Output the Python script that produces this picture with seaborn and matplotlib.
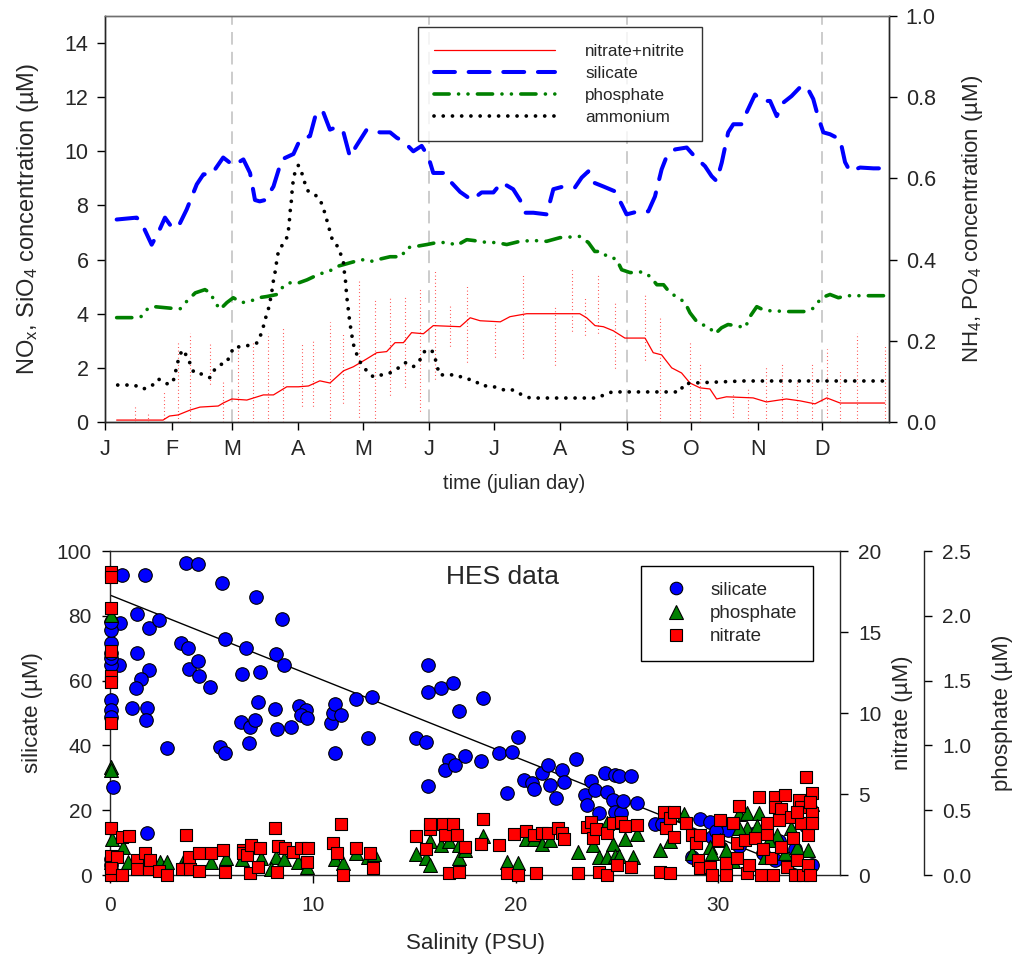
import numpy as np
import pandas as pd
import matplotlib
matplotlib.use("Agg")
import matplotlib.pyplot as plt
from matplotlib.lines import Line2D
import seaborn as sns

# ---------------- top panel data (julian day, concentration) ----------------
month_days = [0, 31, 59, 90, 120, 151, 181, 212, 243, 273, 304, 334]
month_labels = ["J", "F", "M", "A", "M", "J", "J", "A", "S", "O", "N", "D"]
season_days = [59, 151, 243, 334]

si_day = [5.4, 14.7, 17, 21.7, 24.8, 27.9, 31, 34, 38, 42.7, 45.8, 49.6, 55, 59.7, 64.4, 67.5,
          69.8, 72, 74.5, 78.4, 82.3, 87.7, 90.8, 95.4, 98.5, 101.6, 104.7, 107.9, 111, 114,
          117, 121.8, 128, 132.7, 135.8, 138.9, 143.5, 147.4, 150.5, 152.8, 157.5, 160.6,
          165.3, 170.7, 175.3, 180.8, 184.6, 190, 193.2, 195.5, 199.4, 205.6, 208.7, 213.4,
          218.8, 221.9, 225, 227.3, 232, 237.4, 240.5, 242.8, 248.2, 252.9, 256, 259.1, 261.4,
          265.4, 270.8, 274.6, 279.3, 282.4, 284.7, 287.1, 290.1, 292.5, 296.4, 298.7, 302.6,
          305.6, 309.6, 312.7, 315.8, 319.6, 323.6, 326.6, 329.7, 332, 334.4, 337.5, 342.2,
          344.5, 346.8, 351.5, 357.7, 363.1]
si_val = [7.48, 7.55, 7.35, 6.55, 7.0, 7.55, 7.2, 7.2, 7.85, 8.78, 9.15, 9.15, 9.77, 9.48, 9.7, 9.2,
          8.2, 8.15, 8.2, 8.7, 9.7, 9.9, 10.44, 10.56, 11.48, 11.44, 10.8, 10.9, 10.7, 9.8,
          10.2, 10.8, 10.7, 10.7, 10.5, 10.37, 10.0, 10.2, 9.8, 9.2, 9.2, 8.9,
          8.5, 8.2, 8.48, 8.48, 8.85, 8.6, 8.2, 7.73, 7.73, 7.67, 8.6, 8.7,
          8.67, 9.03, 9.26, 8.85, 8.7, 8.52, 8.04, 7.67, 7.78, 7.78, 8.33, 9.33, 9.8,
          10.07, 10.14, 9.8, 9.45, 9.08, 8.9, 9.58, 10.7, 11.0, 11.0, 11.44, 12.1,
          11.86, 11.86, 11.3, 11.8, 12.04, 12.37, 12.4, 11.93, 11.26, 10.7, 10.63, 10.44,
          9.6, 9.26, 9.4, 9.37, 9.37]

nx_day = [5.4, 27, 30, 34, 39.6, 44.2, 52.7, 55, 59, 66, 73.7, 78.4, 84.6, 90, 94.7, 100, 104.7,
          111, 115.6, 121.8, 126.5, 131.1, 135, 138.9, 142.7, 148.2, 152.8, 165.3, 170, 174.6,
          184, 188.5, 196.3, 221, 224.2, 228.1, 232, 236.6, 242, 251.4, 255.2, 259.1, 263.8,
          268.4, 272.3, 277, 281.6, 284.7, 289.3, 301.7, 307.9, 317.2, 323.6, 330.5, 336,
          342.2, 363]
nx_val = [0.07, 0.07, 0.22, 0.26, 0.44, 0.55, 0.59, 0.7, 0.85, 0.81, 1.0, 1.0, 1.3, 1.3, 1.33, 1.52, 1.44,
          1.89, 2.04, 2.33, 2.56, 2.6, 2.93, 2.93, 3.3, 3.26, 3.56, 3.52, 3.85, 3.74,
          3.7, 3.89, 4.0, 4.0, 3.85, 3.56, 3.52, 3.37, 3.1, 3.1, 2.56, 2.48, 2.0,
          1.81, 1.44, 1.26, 1.22, 0.85, 0.93, 0.89, 0.74, 0.85, 0.78, 0.67, 0.89,
          0.70, 0.70]

# raw NOx samples shown as dotted vertical columns
col_day = [14, 20, 27.5, 34, 39.6, 49, 54.7, 62, 69, 76, 83, 91.5, 97, 104.8, 111, 118, 125.7,
           132.7, 139.7, 146.6, 153.6, 160.6, 168.4, 181.6, 194.7, 209.5, 217.3, 223.5, 229.5,
           237.4, 251.4, 258.4, 272.3, 277, 292.2, 299.5, 307.9, 315, 322, 329, 336, 342.2,
           349.9, 363]
col_lo = [0, 0, 0, 0, 0, 1.4, 0, 0, 0, 0, 0, 0.6, 0.6, 0, 0.7, 0.2, 0,
          1.0, 1.3, 0.4, 1.6, 2.8, 2.2, 2.4, 2.35, 2.1, 3.35, 3.2, 3.3,
          2.0, 2.3, 0, 0, 0, 0.2, 0, 0, 0, 0, 0, 0.2, 0,
          0, 0]
col_hi = [0.6, 0.3, 1.1, 2.9, 3.3, 2.9, 1.5, 2.8, 2.9, 3.3, 3.5, 2.9, 3.0, 3.7, 3.3, 5.2, 4.5,
          4.6, 4.7, 5.0, 5.6, 4.3, 5.1, 3.8, 5.5, 4.3, 5.6, 4.6, 5.5,
          4.4, 4.7, 3.9, 3.0, 2.2, 1.0, 1.2, 2.0, 2.2, 1.5, 2.2, 2.7, 1.9,
          3.3, 2.8]

po_day = [5.4, 14, 17, 20, 23, 31, 35, 38, 42, 46.5, 49, 51, 53.5, 56.7, 59.7, 63.6, 67.5, 71.4,
          75.3, 80, 82.3, 85.4, 89.3, 94, 100, 104, 108, 114, 119.5, 123.4, 127, 132.7, 138,
          140.4, 144.3, 149.8, 154.5, 159.8, 163.7, 168.4, 171.5, 178, 182.3, 187, 193.2,
          199.4, 205.6, 211.8, 221, 225, 228, 231, 234.3, 238, 240.5, 244.4, 246.7, 250.6,
          253.8, 256.9, 260, 263, 266.9, 270, 272.3, 275.5, 277.8, 280.9, 284, 287, 290, 294,
          298, 300.3, 303.4, 307.3, 312, 315.8, 319.6, 325.9, 329.7, 333.6, 337.5, 341.4,
          345.3, 350, 363]
po_val = [0.257, 0.257, 0.26, 0.28, 0.284, 0.28, 0.279, 0.297, 0.318, 0.326, 0.318, 0.297, 0.277,
          0.294, 0.306, 0.294, 0.297, 0.306, 0.309, 0.314, 0.33, 0.343, 0.341, 0.35, 0.365, 0.37,
          0.383, 0.392, 0.4, 0.395, 0.40, 0.407, 0.407, 0.429, 0.432, 0.437, 0.442, 0.442,
          0.435, 0.449, 0.447, 0.442, 0.442, 0.437, 0.445, 0.447, 0.445, 0.454, 0.457, 0.442,
          0.42, 0.42, 0.405, 0.402, 0.375, 0.368, 0.368, 0.37, 0.358, 0.338, 0.338, 0.318,
          0.306, 0.294, 0.269, 0.247, 0.24, 0.235, 0.217, 0.232, 0.24, 0.237, 0.232, 0.26,
          0.284, 0.274, 0.274, 0.272, 0.272, 0.272, 0.28, 0.306, 0.314, 0.306, 0.311, 0.311,
          0.311]

nh_day = [5.9, 9.7, 13.6, 17.5, 21.4, 24.8, 28.4, 31.5, 32.6, 33.4, 34.5, 36, 38.4, 39.8, 41.4,
          45, 48.9, 50.9, 53.5, 56.6, 58.2, 60, 63.9, 67.8, 70.9, 72.5, 73.7, 74.8, 76, 76.8,
          77.6, 78, 78.8, 79.5, 80, 80.7, 83, 84.6, 85.4, 85.8, 86.1, 86.6, 86.9, 87.2, 87.7,
          88.5, 90, 91.5, 92.8, 94.2, 97, 99.8, 101.4, 102.6, 103.7, 104.7, 105.8, 108.3,
          109.8, 111, 111.4, 111.9, 112.2, 112.5, 113, 113.4, 113.9, 114.5, 115.1, 115.9,
          117.1, 118.7, 121.5, 124.9, 128.8, 132.7, 136, 139.8, 143.5, 146.6, 148.6, 152,
          153.6, 154.7, 155.6, 159.8, 163.7, 167.6, 171.5, 175.3, 179.2, 183.1, 186.7, 190,
          194, 197.9, 229, 232.4, 236, 267.7, 269.5, 273.9, 297.2, 363]
nh_val = [0.091, 0.091, 0.091, 0.081, 0.087, 0.106, 0.094, 0.096, 0.118, 0.138, 0.16, 0.178, 0.16,
          0.141, 0.121, 0.118, 0.109, 0.128, 0.141, 0.146, 0.165, 0.185, 0.185, 0.19, 0.195,
          0.215, 0.235, 0.257, 0.277, 0.297, 0.318, 0.338, 0.358, 0.38, 0.40, 0.42, 0.44,
          0.454, 0.474, 0.494, 0.516, 0.536, 0.556, 0.578, 0.597, 0.617, 0.632, 0.615, 0.592,
          0.570, 0.563, 0.55, 0.531, 0.509, 0.489, 0.469, 0.449, 0.432, 0.412, 0.392, 0.370,
          0.35, 0.33, 0.309, 0.289, 0.269, 0.247, 0.227, 0.207, 0.185, 0.168, 0.148, 0.128,
          0.111, 0.116, 0.121, 0.131, 0.146, 0.136, 0.153, 0.173, 0.178, 0.158, 0.136, 0.116,
          0.116, 0.116, 0.106, 0.104, 0.089, 0.089, 0.084, 0.077, 0.079, 0.067, 0.059, 0.059,
          0.067, 0.074, 0.074, 0.094, 0.096, 0.101, 0.101]

# ---------------- bottom panel data (salinity, concentration) ----------------
hes_si_sal = [0.58, 1.72, 3.73, 4.32, 5.5, 7.2, 8.5, 1.31, 0.49, 1.94, 2.43, 3.48, 3.86, 5.67, 6.73,
              8.2, 8.57, 1.31, 0.44, 3.9, 4.35, 4.4, 1.94, 1.53, 1.26, 4.93, 6.53, 7.39, 1.07,
              1.84, 1.76, 2.79, 5.42, 5.67, 6.45, 6.9, 7.14, 6.86, 7.3, 8.13, 8.24, 8.95, 9.33,
              9.66, 9.44, 9.69, 10.9, 11.0, 11.1, 11.4, 11.1, 12.15, 12.9, 12.7, 15.1, 15.6, 15.7,
              15.7, 16.3, 16.9, 17.2, 18.4, 15.7, 16.7, 16.5, 17.0, 17.5, 18.3, 1.84, 0.16,
              0.05, 0.05, 0.05, 0.05, 0.05, 0.05, 0.05, 0.05, 0.05, 0.05, 0.05,
              20.1, 19.2, 19.8, 19.6, 20.4, 20.8, 20.9, 21.3, 21.6, 21.7, 22.0, 22.3, 22.4, 23.0,
              23.4, 23.5, 23.7, 23.9, 24.1, 24.4, 24.5, 24.8, 24.9, 25.1, 24.9, 25.2, 25.3, 25.7,
              26.0, 26.9, 27.2, 29.1, 29.6, 29.7, 28.7, 31.7, 32.2, 34.6, 30.5, 31.0, 33.0, 33.8,
              32.8, 29.9, 34.3]
hes_si_val = [92.6, 92.6, 96.2, 95.9, 90.2, 85.9, 78.9, 80.5, 77.9, 76.1, 78.7, 71.7, 70.0, 73.0, 70.2,
              68.2, 64.8, 68.6, 64.8, 63.6, 66.1, 61.4, 63.3, 60.5, 57.6, 57.9, 62.0, 62.6, 51.6,
              51.6, 48.0, 39.1, 39.4, 37.8, 47.3, 45.8, 48.0, 40.8, 53.5, 51.2, 45.1, 45.8, 52.2,
              50.9, 49.4, 48.6, 47.0, 49.9, 52.7, 49.4, 37.8, 54.2, 54.8, 42.2, 42.2, 41.2, 64.8,
              56.4, 57.6, 59.4, 50.7, 54.7, 27.6, 35.5, 32.4, 34.0, 36.7, 35.2, 13.1, 27.2,
              54.0, 50.9, 48.9, 71.7, 75.6, 64.8, 66.9, 78.2, 68.4, 5.0, 3.0,
              42.7, 37.6, 38.1, 25.2, 29.3, 28.5, 26.7, 31.4, 34.0, 27.8, 23.7, 32.4, 28.8, 35.8,
              24.7, 21.6, 29.1, 26.2, 19.2, 31.4, 25.7, 23.1, 30.9, 30.6, 19.5, 19.2, 22.9, 30.6,
              22.1, 15.7, 15.7, 17.3, 16.5, 11.8, 5.7, 12.8, 6.7, 3.1, 14.0, 9.0, 10.5, 8.0,
              4.5, 13.5, 15.0]

no3_sal = [0.05, 0.05, 0.05, 0.05, 0.05, 0.05, 0.05, 0.05, 0.05, 0.05, 0.05,
           0.58, 0.95, 0.33, 0.03, 0.58, 1.31, 1.31, 1.72, 1.94, 1.97, 2.43, 2.82, 3.53, 3.74,
           3.94, 3.91, 4.4, 4.4, 4.96, 5.55, 5.67, 6.57, 6.54, 6.78, 6.93, 6.9, 7.39, 7.3, 8.16,
           8.29, 8.24, 8.62, 9.03, 9.44, 9.74, 9.72, 11.0, 11.2, 11.4, 11.5, 12.15, 12.8, 12.97,
           15.1, 15.6, 15.8, 15.8, 16.4, 16.5, 16.7, 16.9, 17.1, 17.2, 17.5, 18.3, 18.4,
           19.2, 19.9, 20.5, 20.9, 21.3, 21.6, 22.1, 22.3, 22.4, 19.6, 20.1, 21.0, 23.1, 23.5,
           23.7, 23.8, 23.97, 24.1, 24.5, 24.5, 24.8, 25.0, 25.2, 25.4, 25.7, 26.0, 27.1, 27.6,
           27.3, 27.4, 27.6, 27.8, 27.8, 28.4, 28.7, 28.9, 29.1, 29.0, 29.1, 29.6, 29.7, 30.0,
           30.1, 30.4, 30.4, 30.7, 30.9, 30.9, 31.0, 31.3, 31.4, 31.5, 31.8, 32.0, 32.1, 32.4,
           32.4, 32.6, 32.7, 32.8, 32.8, 33.1, 33.1, 33.3, 33.4, 33.6, 33.7, 33.8, 33.9, 34.0,
           34.1, 34.1, 34.2, 34.3, 34.4, 34.4, 34.6, 34.6, 34.6, 34.5, 33.9, 34.5, 33.0, 32.2]
no3_val = [18.7, 18.4, 16.5, 13.8, 12.3, 11.9, 9.4, 2.9, 1.2, 0.5, 0.0,
           2.33, 2.41, 1.14, 0.43, 0.0, 0.93, 0.35, 1.33, 0.35, 0.93, 0.27, 0.0, 0.35, 2.45,
           0.35, 1.14, 1.33, 0.27, 1.33, 1.54, 0.21, 1.54, 1.33, 1.23, 1.85, 0.1, 1.68, 0.51, 2.91,
           1.79, 0.21, 1.64, 1.44, 1.64, 1.64, 0.82, 1.95, 1.33, 3.17, 0.0, 1.64, 1.33, 0.43,
           2.41, 1.6, 2.82, 3.17, 3.13, 2.45, 0.1, 3.17, 2.45, 0.21, 1.7, 1.9, 3.43,
           1.85, 2.53, 2.72, 2.47, 2.61, 2.57, 2.88, 2.61, 2.2, 0.1, 0.0, 0.1, 0.1, 2.94,
           3.29, 2.26, 2.82, 0.21, 0.0, 2.57, 3.19, 0.62, 3.29, 3.02, 0.51, 3.08, 0.21, 0.1,
           3.91, 2.88, 3.5, 3.91, 2.37, 3.19, 2.47, 1.95, 2.47, 0.93, 0.43, 0.51, 0.0, 2.16,
           3.39, 0.0, 0.72, 3.19, 1.95, 1.03, 4.26, 2.16, 0.1, 0.62, 2.26, 4.83, 0.0, 2.53,
           3.19, 1.03, 0.0, 4.83, 4.22, 4.1, 1.75, 4.94, 0.51, 3.6, 2.26, 0.0, 0.93, 4.63,
           4.22, 3.19, 0.0, 6.03, 0.62, 2.47, 5.06, 3.81, 3.19, 0.0, 3.9, 4.5, 3.4, 1.6]

po4_sal = [0.05, 0.05, 0.05, 0.08, 0.05, 0.63, 0.9, 2.46, 2.82, 3.6, 3.78, 4.96, 5.7, 6.49, 7.47,
           8.21, 7.96, 8.57, 9.28, 9.69, 11.1, 11.5, 12.15, 12.7, 13.0, 15.1, 15.6, 15.8, 15.8,
           16.3, 16.7, 17.2, 17.2, 17.5, 18.4, 19.6, 20.1, 20.5, 20.9, 21.3, 21.7, 23.1, 23.8,
           24.1, 24.5, 24.8, 24.9, 25.1, 24.5, 25.4, 25.8, 26.0, 27.1, 27.6, 28.3, 28.7, 29.6,
           29.7, 30.1, 30.4, 31.0, 31.4, 32.0, 31.4, 31.9, 31.0, 32.9, 33.3, 33.6, 33.9, 34.4,
           34.6, 34.4, 32.5, 30.7, 32.3]
po4_val = [2.01, 0.83, 0.81, 0.275, 0.1, 0.22, 0.1, 0.1, 0.1, 0.1, 0.12, 0.1, 0.13, 0.12, 0.13,
           0.14, 0.05, 0.12, 0.1, 0.06, 0.12, 0.09, 0.17, 0.14, 0.16, 0.16, 0.13, 0.08, 0.26,
           0.23, 0.26, 0.23, 0.13, 0.19, 0.3, 0.1, 0.09, 0.28, 0.28, 0.24, 0.27, 0.18, 0.23,
           0.14, 0.14, 0.24, 0.15, 0.15, 0.40, 0.28, 0.14, 0.32, 0.19, 0.26, 0.47, 0.17, 0.22,
           0.17, 0.27, 0.19, 0.47, 0.48, 0.48, 0.36, 0.38, 0.36, 0.31, 0.17, 0.36, 0.22, 0.19,
           0.55, 0.42, 0.27, 0.11, 0.14]

reg_intercept = 86.4
reg_slope = -2.5
reg_sal_range = [0, 34.5]

# ---------------- styling ----------------
sns.set_style("ticks")
plt.rcParams["font.family"] = ["Liberation Sans", "DejaVu Sans"]
plt.rcParams["mathtext.fontset"] = "custom"
plt.rcParams["mathtext.rm"] = "Liberation Sans"
plt.rcParams["mathtext.it"] = "Liberation Sans"
plt.rcParams["axes.linewidth"] = 1.0

BLUE = "#0000ff"
GREEN = "#008000"
RED = "#ff0000"

si_ls = (0, (5.2, 3.4))
po_ls = (0, (4.2, 2.6, 0.01, 2.6, 0.01, 2.6))
nh_ls = (0, (0.01, 2.45))

fig = plt.figure(figsize=(10.14, 9.56), dpi=100)

# ===================== TOP PANEL =====================
ax1 = fig.add_axes([0.1036, 0.5586, 0.7732, 0.4247])
ax1r = ax1.twinx()

for d in season_days:
    ax1.axvline(d, color="#c8c8c8", lw=1.3, ls=(0, (7, 4)), zorder=0)

ax1.vlines(col_day, col_lo, col_hi, colors=RED, lw=0.8, linestyles=(0, (0.6, 2.6)), zorder=1)

sns.lineplot(x=nx_day, y=nx_val, ax=ax1, color=RED, lw=0.9, errorbar=None, zorder=2)
sns.lineplot(x=si_day, y=si_val, ax=ax1, color=BLUE, lw=2.9, linestyle=si_ls,
             dash_capstyle="round", errorbar=None, zorder=3)
sns.lineplot(x=po_day, y=po_val, ax=ax1r, color=GREEN, lw=2.6, linestyle=po_ls,
             dash_capstyle="round", errorbar=None, zorder=3)
sns.lineplot(x=nh_day, y=nh_val, ax=ax1r, color="black", lw=2.7, linestyle=nh_ls,
             dash_capstyle="round", errorbar=None, zorder=3)

ax1.set_xlim(0, 365)
ax1.set_ylim(0, 15)
ax1r.set_ylim(0, 1.0)
ax1.set_xticks(month_days)
ax1.set_xticklabels(month_labels)
ax1.set_yticks(np.arange(0, 15, 2))
ax1r.set_yticks(np.arange(0, 1.01, 0.2))
ax1r.set_yticklabels([f"{v:.1f}" for v in np.arange(0, 1.01, 0.2)])

for a in (ax1, ax1r):
    a.tick_params(direction="out", length=6, width=1, labelsize=15.5, pad=6, color="black")
ax1.spines["top"].set_color("#707070")
ax1r.spines["top"].set_color("#707070")

ax1.set_xlabel("time (julian day)", fontsize=14.5)
ax1.xaxis.set_label_coords(0.522, -0.128)
ax1.set_ylabel(r"NO$\mathregular{_x}$, SiO$\mathregular{_4}$ concentration (µM)", fontsize=17)
ax1.yaxis.set_label_coords(-0.082, 0.5)
ax1r.set_ylabel(r"NH$\mathregular{_4}$, PO$\mathregular{_4}$ concentration (µM)", fontsize=16)
ax1r.yaxis.set_label_coords(1.09, 0.5)

top_handles = [
    Line2D([], [], color=RED, lw=0.9),
    Line2D([], [], color=BLUE, lw=2.9, ls=si_ls, dash_capstyle="round"),
    Line2D([], [], color=GREEN, lw=2.6, ls=po_ls, dash_capstyle="round"),
    Line2D([], [], color="black", lw=2.7, ls=nh_ls, dash_capstyle="round"),
]
top_labels = ["nitrate+nitrite", "silicate", "phosphate", "ammonium"]
leg1 = ax1r.legend(top_handles, top_labels, loc="upper left", bbox_to_anchor=(0.399, 0.972),
                   fontsize=12.3, handlelength=7.1, handletextpad=1.75, labelspacing=0.42,
                   borderpad=0.95, frameon=True, fancybox=False, borderaxespad=0)
leg1.get_frame().set_edgecolor("black")
leg1.get_frame().set_linewidth(1.0)

# ===================== BOTTOM PANEL =====================
ax2 = fig.add_axes([0.1085, 0.0847, 0.7199, 0.3389])
ax2p = ax2.twinx()
ax2n = ax2.twinx()

reg_x = np.array(reg_sal_range)
sns.lineplot(x=reg_x, y=reg_intercept + reg_slope * reg_x, ax=ax2, color="black", lw=1.0,
             errorbar=None, zorder=1)
sns.scatterplot(x=hes_si_sal, y=hes_si_val, ax=ax2, marker="o", s=95, color=BLUE,
                edgecolor="black", linewidth=0.8, clip_on=False, zorder=3, legend=False)
sns.scatterplot(x=po4_sal, y=po4_val, ax=ax2p, marker="^", s=100, color=GREEN, edgecolor="black",
                linewidth=0.8, clip_on=False, zorder=3, legend=False)
sns.scatterplot(x=no3_sal, y=no3_val, ax=ax2n, marker="s", s=85, color=RED, edgecolor="black",
                linewidth=0.8, clip_on=False, zorder=3, legend=False)

ax2.set_xlim(0, 36)
ax2.set_ylim(0, 100)
ax2n.set_ylim(0, 20)
ax2p.set_ylim(0, 2.5)
ax2.set_xticks([0, 10, 20, 30])
ax2.set_yticks(np.arange(0, 101, 20))
ax2n.set_yticks(np.arange(0, 21, 5))
ax2p.set_yticks(np.arange(0, 2.51, 0.5))
ax2p.set_yticklabels([f"{v:.1f}" for v in np.arange(0, 2.51, 0.5)])

ax2p.spines["right"].set_position(("axes", 1.1155))
for sp in ("top", "left", "bottom"):
    ax2p.spines[sp].set_visible(False)
    ax2n.spines[sp].set_visible(False)
ax2.spines["right"].set_visible(False)

for a in (ax2, ax2n, ax2p):
    a.tick_params(direction="out", length=6, width=1, labelsize=15, pad=7, color="black")
ax2.tick_params(axis="x", pad=9)

ax2.set_xlabel("Salinity (PSU)", fontsize=16)
ax2.xaxis.set_label_coords(0.5, -0.178)
ax2.set_ylabel("silicate (µM)", fontsize=16)
ax2.yaxis.set_label_coords(-0.092, 0.5)
ax2n.set_ylabel("nitrate (µM)", fontsize=16)
ax2n.yaxis.set_label_coords(1.071, 0.5)
ax2p.set_ylabel("phosphate (µM)", fontsize=16)
ax2p.yaxis.set_label_coords(1.208, 0.5)

ax2n.text(0.537, 0.92, "HES data", transform=ax2n.transAxes, fontsize=19, ha="center",
          va="center")

bot_handles = [
    Line2D([], [], ls="none", marker="o", ms=9, mfc=BLUE, mec="black", mew=0.8),
    Line2D([], [], ls="none", marker="^", ms=9.5, mfc=GREEN, mec="black", mew=0.8),
    Line2D([], [], ls="none", marker="s", ms=8.5, mfc=RED, mec="black", mew=0.8),
]
leg2 = ax2n.legend(bot_handles, ["silicate", "phosphate", "nitrate"], loc="upper left",
                   bbox_to_anchor=(0.727, 0.954), fontsize=13.5, handlelength=2.1,
                   handletextpad=0.75, labelspacing=0.32, borderpad=0.85, frameon=True,
                   fancybox=False, borderaxespad=0, framealpha=1)
leg2.get_frame().set_edgecolor("black")
leg2.get_frame().set_linewidth(1.0)

fig.savefig("out.png", dpi=100)
